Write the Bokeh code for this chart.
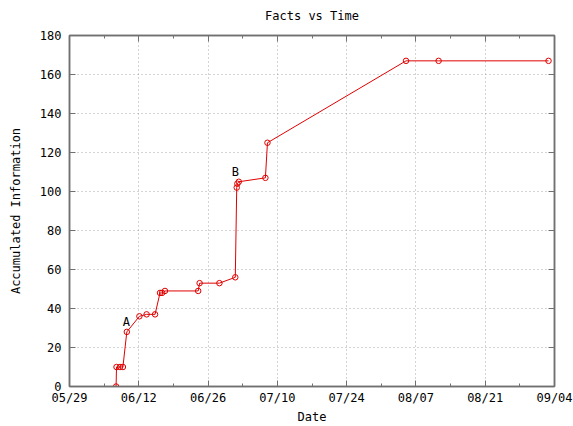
from datetime import datetime
from bokeh.plotting import figure
from bokeh.models import (ColumnDataSource, FixedTicker, DatetimeTickFormatter,
                          DatetimeAxis, LinearAxis, Range1d, Label, Title,
                          CustomJSTickFormatter)
from bokeh.embed import file_html
from bokeh.resources import INLINE

# ---- data ----
dates = ["2006-06-07 10:00", "2006-06-07 12:00", "2006-06-08 05:00", "2006-06-08 19:00",
         "2006-06-09 14:00", "2006-06-12 03:00", "2006-06-13 14:00", "2006-06-15 07:00",
         "2006-06-16 07:00", "2006-06-16 17:00", "2006-06-17 07:00", "2006-06-24 00:00",
         "2006-06-24 07:00", "2006-06-28 07:00", "2006-07-01 12:00", "2006-07-01 19:00",
         "2006-07-01 22:00", "2006-07-02 05:00", "2006-07-07 14:00", "2006-07-08 00:00",
         "2006-08-05 00:00", "2006-08-11 14:00", "2006-09-02 19:00"]
facts = [0, 10, 10, 10, 28, 36, 37, 37, 48, 48, 49, 49, 53, 53, 56, 102, 104, 105,
         107, 125, 167, 167, 167]
tick_dates = ["2006-05-29", "2006-06-12", "2006-06-26", "2006-07-10",
              "2006-07-24", "2006-08-07", "2006-08-21", "2006-09-04"]
minor_dates = ["2006-06-05", "2006-06-19", "2006-07-03", "2006-07-17",
               "2006-07-31", "2006-08-14", "2006-08-28"]
y_ticks = [0, 20, 40, 60, 80, 100, 120, 140, 160, 180]
notes = [("A", "2006-06-09 12:00", 33), ("B", "2006-07-01 12:00", 110)]

def ms(s):
    fmt = "%Y-%m-%d %H:%M" if " " in s else "%Y-%m-%d"
    return (datetime.strptime(s, fmt) - datetime(1970, 1, 1)).total_seconds() * 1000.0

xs = [ms(d) for d in dates]
major = [ms(d) for d in tick_dates]
minor = [ms(d) for d in minor_dates]

FONT = "DejaVu Sans Mono"
AXC = "#707070"

p = figure(width=573, height=426, x_axis_type="datetime",
           x_range=Range1d(major[0], major[-1]), y_range=Range1d(0, 180),
           output_backend="svg", toolbar_location=None,
           title="Facts vs Time",
           min_border_left=69, min_border_right=19, min_border_top=35, min_border_bottom=36)
p.title.align = "center"
p.title.text_font = FONT
p.title.text_font_size = "12px"
p.title.text_font_style = "normal"
p.title.text_color = "black"
p.background_fill_color = "white"
p.outline_line_color = AXC
p.outline_line_width = 1.5

src = ColumnDataSource(dict(x=xs, y=facts))
p.line("x", "y", source=src, line_color="#e00000", line_width=1)
p.scatter("x", "y", source=src, marker="circle", size=5.5, fill_color=None,
          line_color="#e00000", line_width=1)

for txt, d, yv in notes:
    p.add_layout(Label(x=ms(d), y=yv, text=txt, text_font=FONT, text_font_size="12px",
                       text_align="center", text_baseline="middle", text_color="black"))

def style(ax):
    ax.axis_line_color = AXC
    ax.axis_line_width = 1.5
    ax.major_tick_line_color = AXC
    ax.minor_tick_line_color = AXC
    ax.major_tick_in = 6
    ax.major_tick_out = 0
    ax.minor_tick_in = 3
    ax.minor_tick_out = 0
    ax.major_label_text_font = FONT
    ax.major_label_text_font_size = "12px"
    ax.major_label_text_color = "black"
    ax.axis_label_text_font = FONT
    ax.axis_label_text_font_size = "12px"
    ax.axis_label_text_font_style = "normal"
    ax.axis_label_text_color = "black"

xt = FixedTicker(ticks=major, minor_ticks=minor)
yt = FixedTicker(ticks=y_ticks, minor_ticks=[])
fmt = DatetimeTickFormatter(days="%m/%d", months="%m/%d", hours="%m/%d")
blank = CustomJSTickFormatter(code="return ''")

p.xaxis.ticker = xt
p.xaxis.formatter = fmt
p.xaxis.axis_label = "Date"
style(p.xaxis[0])
p.xaxis.major_label_standoff = 4
p.xaxis.axis_label_standoff = 2
p.yaxis.ticker = yt
p.yaxis.axis_label = "Accumulated Information"
style(p.yaxis[0])
p.yaxis.major_label_standoff = 8
p.yaxis.axis_label_standoff = 14

top = DatetimeAxis(ticker=xt, formatter=blank)
style(top)
top.major_label_standoff = 0
p.add_layout(top, "above")
spacer = Title(text=" ", text_font_size="5px", standoff=0)
p.add_layout(spacer, "above")
right = LinearAxis(ticker=yt, formatter=blank)
style(right)
right.major_label_standoff = 0
p.add_layout(right, "right")

p.xgrid.ticker = xt
p.ygrid.ticker = yt
for g in (p.xgrid[0], p.ygrid[0]):
    g.grid_line_color = "#a8a8a8"
    g.grid_line_dash = "1 3"
    g.grid_line_width = 1

open("out.html", "w").write(file_html(p, INLINE))
